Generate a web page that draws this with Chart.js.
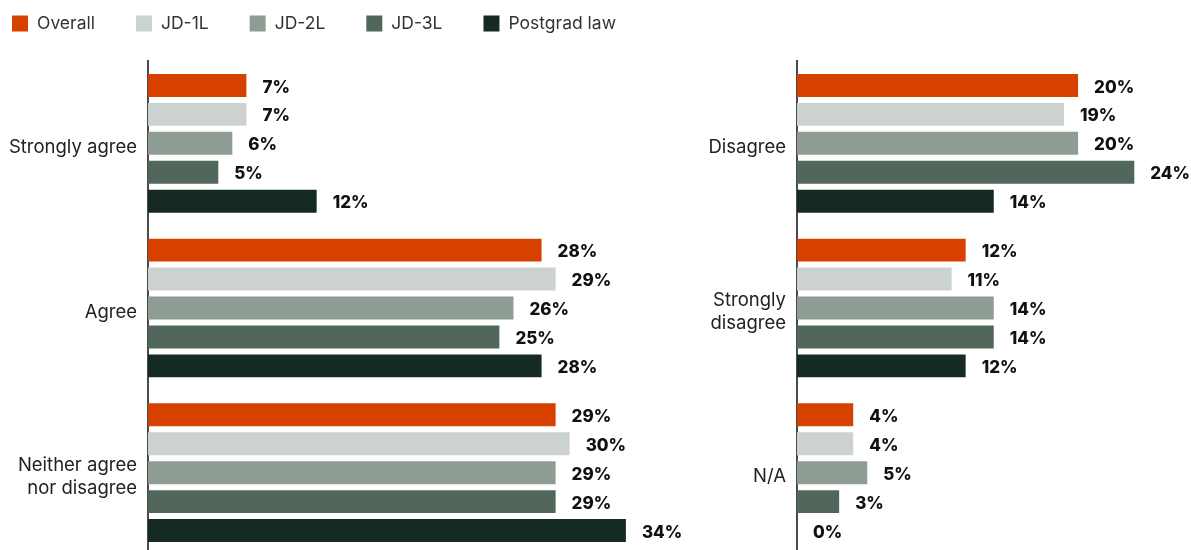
<!DOCTYPE html>
<html>
<head>
<meta charset="utf-8">
<script src="https://cdn.jsdelivr.net/npm/chart.js@4"></script>
<style>
  html, body { margin: 0; padding: 0; background: #fff; overflow: hidden; }
  body { width: 1191px; height: 550px; position: relative; }
  canvas { position: absolute; top: 0; }
  #leftChart { left: 0; }
  #rightChart { left: 690px; }
</style>
</head>
<body>
<canvas id="leftChart" width="694" height="560"></canvas>
<canvas id="rightChart" width="501" height="560"></canvas>
<script>
// Survey response groups
const seriesNames = ['Overall', 'JD-1L', 'JD-2L', 'JD-3L', 'Postgrad law'];
const seriesColors = ['#D74100', '#CCD2CF', '#8E9C94', '#52675B', '#152A20'];

// Left panel categories and shares (%)
const leftCategories = ['Strongly agree', 'Agree', ['Neither agree', 'nor disagree']];
const overallLeft  = [7, 28, 29];
const jd1Left      = [7, 29, 30];
const jd2Left      = [6, 26, 29];
const jd3Left      = [5, 25, 29];
const postgradLeft = [12, 28, 34];

// Right panel categories and shares (%)
const rightCategories = ['Disagree', ['Strongly', 'disagree'], 'N/A'];
const overallRight  = [20, 12, 4];
const jd1Right      = [19, 11, 4];
const jd2Right      = [20, 14, 5];
const jd3Right      = [24, 14, 3];
const postgradRight = [14, 12, 0];

const FONT = 'Inter, "Noto Sans", sans-serif';

// Percent labels drawn just past the end of every bar
const valueLabels = {
  id: 'valueLabels',
  afterDatasetsDraw(chart) {
    const ctx = chart.ctx;
    ctx.save();
    ctx.font = '800 17px ' + FONT;
    ctx.fillStyle = '#111';
    ctx.textAlign = 'left';
    ctx.textBaseline = 'middle';
    chart.data.datasets.forEach((ds, i) => {
      chart.getDatasetMeta(i).data.forEach((bar, j) => {
        ctx.fillText(ds.data[j] + '%', bar.x + 16, bar.y + 2);
      });
    });
    ctx.restore();
  }
};

// Legend row along the top of the left panel
const topLegend = {
  id: 'topLegend',
  afterDraw(chart) {
    const ctx = chart.ctx;
    ctx.save();
    ctx.font = '17.5px ' + FONT;
    ctx.textBaseline = 'middle';
    ctx.textAlign = 'left';
    let x = 12;
    const y = 23.5;
    chart.data.datasets.forEach(ds => {
      ctx.fillStyle = ds.backgroundColor;
      ctx.fillRect(x, y - 8, 16, 16);
      ctx.fillStyle = '#333';
      ctx.fillText(ds.label, x + 25, y);
      x += 25 + ctx.measureText(ds.label).width + 41;
    });
    ctx.restore();
  }
};

function buildDatasets(cols) {
  return seriesNames.map((name, i) => ({
    label: name,
    data: cols[i],
    backgroundColor: seriesColors[i],
    borderWidth: 0,
    barPercentage: 0.793,
    categoryPercentage: 0.879
  }));
}

function makeChart(id, categories, cols, axisWidth, xMax, padRight, plugins) {
  return new Chart(document.getElementById(id), {
    type: 'bar',
    data: { labels: categories, datasets: buildDatasets(cols) },
    options: {
      indexAxis: 'y',
      responsive: false,
      animation: false,
      layout: { padding: { top: 61, bottom: 5, left: 0, right: padRight } },
      plugins: { legend: { display: false }, tooltip: { enabled: false } },
      scales: {
        x: { display: false, min: 0, max: xMax },
        y: {
          grid: { display: false, drawTicks: false },
          border: { display: true, color: '#4a4a4a', width: 2 },
          ticks: {
            padding: 11,
            labelOffset: 4,
            color: '#222',
            font: { family: FONT, size: 18.5, lineHeight: 1.25 }
          },
          afterFit(scale) {
            scale.width = axisWidth;
            scale.paddingTop = 0;
            scale.paddingBottom = 0;
          }
        }
      }
    },
    plugins: plugins
  });
}

makeChart('leftChart', leftCategories,
  [overallLeft, jd1Left, jd2Left, jd3Left, postgradLeft],
  148, 36, 40, [valueLabels, topLegend]);

makeChart('rightChart', rightCategories,
  [overallRight, jd1Right, jd2Right, jd3Right, postgradRight],
  107, 26, 28.6, [valueLabels]);
</script>
</body>
</html>
